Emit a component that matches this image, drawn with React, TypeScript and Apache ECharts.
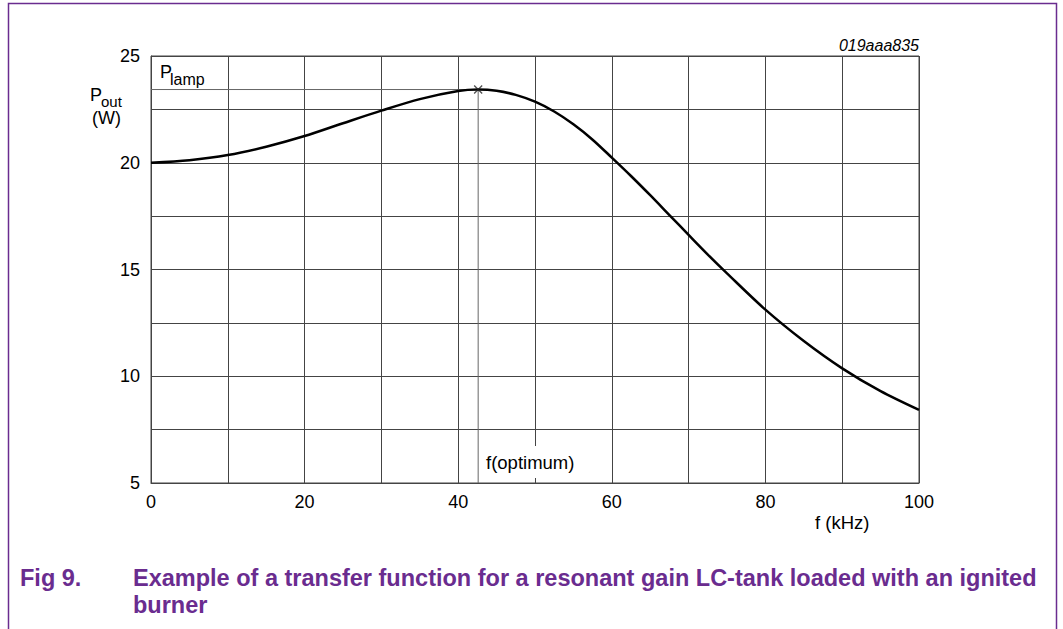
import React, { useEffect, useRef } from "react";
import * as echarts from "echarts";

// Data
const freqKHz = [0, 5, 10, 15, 20, 25, 30, 35, 40, 42.6, 45, 47.5, 50, 52.5, 55, 57.5, 60, 62.5, 65, 67.5, 70, 72.5, 75, 80, 85, 90, 95, 100];
const poutW = [20.0, 20.12, 20.36, 20.75, 21.25, 21.85, 22.44, 22.98, 23.36, 23.43, 23.37, 23.18, 22.86, 22.4, 21.8, 21.08, 20.24, 19.38, 18.48, 17.55, 16.62, 15.7, 14.82, 13.12, 11.65, 10.37, 9.3, 8.42];
const xLabelValues = [0, 20, 40, 60, 80, 100];
const yLabelValues = [5, 10, 15, 20, 25];

const captionNum = "Fig 9.";
const captionLine1 = "Example of a transfer function for a resonant gain LC-tank loaded with an ignited";
const captionLine2 = "burner";
const figCode = "019aaa835";

const FONT = "'Liberation Sans', Arial, Helvetica, sans-serif";
const PURPLE = "#6a2c8f";
const GRID = "#444";

export default function App() {
  const ref = useRef<HTMLDivElement>(null);
  useEffect(() => {
    if (!ref.current) return;
    const chart = echarts.init(ref.current, null, { renderer: "svg" });
    let peakIdx = 0;
    poutW.forEach((v, i) => { if (v > poutW[peakIdx]) peakIdx = i; });
    const peakX = freqKHz[peakIdx];
    const peakY = poutW[peakIdx];
    const curve = freqKHz.map((f, i) => [f, poutW[i]]);

    chart.setOption({
      animation: false,
      backgroundColor: "#fff",
      textStyle: { fontFamily: FONT },
      grid: { left: 151, top: 56, width: 768, height: 427, show: true, borderColor: GRID, borderWidth: 1, backgroundColor: "transparent" },
      xAxis: {
        type: "value", min: 0, max: 100, interval: 10,
        axisLine: { show: true, lineStyle: { color: GRID, width: 1 } },
        axisTick: { show: false },
        splitLine: { show: true, lineStyle: { color: GRID, width: 1 } },
        axisLabel: {
          color: "#000", fontSize: 18, fontFamily: FONT, margin: 10,
          formatter: (v: number) => (xLabelValues.includes(v) ? String(v) : ""),
        },
      },
      yAxis: {
        type: "value", min: 5, max: 25, interval: 2.5,
        axisLine: { show: true, lineStyle: { color: GRID, width: 1 } },
        axisTick: { show: false },
        splitLine: { show: true, lineStyle: { color: GRID, width: 1 } },
        axisLabel: {
          color: "#000", fontSize: 18, fontFamily: FONT, margin: 11,
          formatter: (v: number) => (yLabelValues.includes(v) ? String(v) : ""),
        },
      },
      series: [
        {
          type: "line",
          data: [[0, peakY], [peakX, peakY], [peakX, 5]],
          symbol: "none",
          lineStyle: { color: "#666", width: 1 },
          z: 2,
          silent: true,
        },
        {
          type: "line",
          data: curve,
          smooth: 0.3,
          symbol: "none",
          lineStyle: { color: "#000", width: 2.5 },
          z: 3,
          silent: true,
        },
        {
          type: "scatter",
          data: [[peakX, peakY]],
          symbol: "path://M0,0L10,10M10,0L0,10",
          symbolSize: 8,
          itemStyle: { color: "transparent", borderColor: "#222", borderWidth: 1.3 },
          z: 4,
          silent: true,
        },
      ],
      graphic: [
        { type: "rect", shape: { x: 8.5, y: 3.5, width: 1048, height: 700 }, style: { fill: "none", stroke: PURPLE, lineWidth: 1.5 }, silent: true },
        { type: "text", x: 919, y: 37, style: { text: figCode, font: `italic 16px ${FONT}`, fill: "#000", align: "right" } },
        { type: "text", x: 90, y: 86, style: { text: "P", font: `18px ${FONT}`, fill: "#000" } },
        { type: "text", x: 101, y: 94, style: { text: "out", font: `15px ${FONT}`, fill: "#000" } },
        { type: "text", x: 92, y: 109, style: { text: "(W)", font: `18px ${FONT}`, fill: "#000" } },
        { type: "text", x: 160, y: 63, style: { text: "P", font: `18px ${FONT}`, fill: "#000" } },
        { type: "text", x: 170, y: 71, style: { text: "lamp", font: `16px ${FONT}`, fill: "#000" } },
        { type: "text", x: 484, y: 446, z: 10, style: { text: "f(optimum)", font: `18.5px ${FONT}`, fill: "#000", backgroundColor: "#fff", padding: [7, 2, 6, 2] } },
        { type: "text", x: 815, y: 513, style: { text: "f (kHz)", font: `18.5px ${FONT}`, fill: "#000" } },
        { type: "text", x: 20, y: 566, style: { text: captionNum, font: `bold 23.5px ${FONT}`, fill: PURPLE } },
        { type: "text", x: 133, y: 566, style: { text: captionLine1, font: `bold 23.5px ${FONT}`, fill: PURPLE } },
        { type: "text", x: 133, y: 593, style: { text: captionLine2, font: `bold 23.5px ${FONT}`, fill: PURPLE } },
      ],
    });
    return () => chart.dispose();
  }, []);
  return <div ref={ref} style={{ position: "fixed", left: 0, top: 0, width: 1063, height: 629 }} />;
}
